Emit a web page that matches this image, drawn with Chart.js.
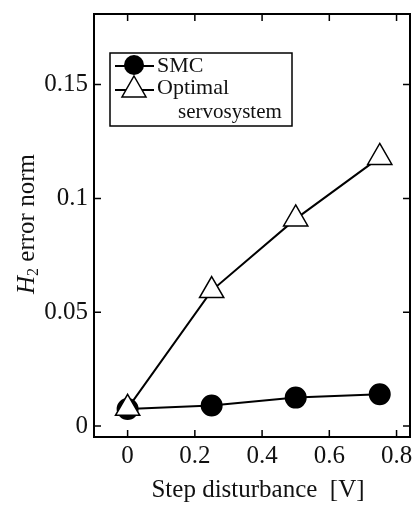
<!DOCTYPE html>
<html>
<head>
<meta charset="utf-8">
<script src="https://cdn.jsdelivr.net/npm/chart.js@4"></script>
<style>
  html, body { margin: 0; padding: 0; background: #fff; }
  #wrap { width: 413px; height: 507px; position: relative; }
</style>
</head>
<body>
<div id="wrap"><canvas id="myChart"></canvas></div>
<script>
// data
const disturbance = [0, 0.25, 0.5, 0.75];
const smcNorm = [0.0075, 0.009, 0.0125, 0.014];
const optimalNorm = [0.0078, 0.0595, 0.091, 0.118];
const xTicks = [0, 0.2, 0.4, 0.6, 0.8];
const yTicks = [0, 0.05, 0.1, 0.15];

const serif = "'Liberation Serif', 'DejaVu Serif', serif";

function toPoints(xs, ys) {
  return xs.map((x, i) => ({ x: x, y: ys[i] }));
}

// inward ticks on all four sides, frame, x labels, axis titles, legend
const framePlugin = {
  id: "frame",
  afterDraw(chart) {
    const c = chart.ctx;
    const a = chart.chartArea;
    const xs = chart.scales.x, ys = chart.scales.y;
    c.save();
    c.strokeStyle = "#000";
    c.lineWidth = 2;
    c.strokeRect(a.left, a.top, a.right - a.left, a.bottom - a.top);
    c.lineWidth = 1.5;
    c.beginPath();
    xTicks.forEach((v) => {
      const px = xs.getPixelForValue(v);
      c.moveTo(px, a.bottom); c.lineTo(px, a.bottom - 7);
      c.moveTo(px, a.top); c.lineTo(px, a.top + 7);
    });
    yTicks.forEach((v) => {
      const py = ys.getPixelForValue(v);
      c.moveTo(a.left, py); c.lineTo(a.left + 7, py);
      c.moveTo(a.right, py); c.lineTo(a.right - 7, py);
    });
    c.stroke();

    // x tick labels
    c.fillStyle = "#111";
    c.font = "25px " + serif;
    c.textAlign = "center";
    c.textBaseline = "middle";
    xTicks.forEach((v) => {
      c.fillText(String(v), xs.getPixelForValue(v), a.bottom + 19);
    });
    // x title
    c.font = "25px " + serif;
    c.fillText("Step disturbance  [V]", 258, 490);
    c.textAlign = "left";

    // y title: italic H with subscript 2
    c.translate(27, 224);
    c.rotate(-Math.PI / 2);
    const f1 = "italic 25px " + serif, f2 = "16px " + serif, f3 = "25px " + serif;
    c.font = f1; const w1 = c.measureText("H").width;
    c.font = f2; const w2 = c.measureText("2").width;
    c.font = f3; const w3 = c.measureText(" error norm").width;
    let x0 = -(w1 + w2 + w3) / 2;
    c.font = f1; c.fillText("H", x0, 0);
    c.font = f2; c.fillText("2", x0 + w1, 7);
    c.font = f3; c.fillText(" error norm", x0 + w1 + w2, 0);
    c.restore();

    // legend box
    c.save();
    c.strokeStyle = "#000";
    c.lineWidth = 1.5;
    c.strokeRect(110, 53, 182, 73);
    c.lineWidth = 2;
    c.beginPath();
    c.moveTo(115, 66); c.lineTo(154, 66);
    c.moveTo(115, 90); c.lineTo(154, 90);
    c.stroke();
    c.fillStyle = "#000";
    c.beginPath(); c.arc(134, 65, 10, 0, Math.PI * 2); c.fill();
    c.fillStyle = "#fff";
    c.lineWidth = 1.5;
    c.beginPath();
    c.moveTo(134, 76); c.lineTo(146, 97); c.lineTo(122, 97); c.closePath();
    c.fill(); c.stroke();
    c.fillStyle = "#111";
    c.font = "22px " + serif;
    c.textBaseline = "middle";
    c.fillText("SMC", 157, 66);
    c.fillText("Optimal", 157, 88);
    c.font = "21px " + serif;
    c.fillText("servosystem", 178, 112);
    c.restore();
  }
};

const ctx = document.getElementById("myChart");

new Chart(ctx, {
  type: "line",
  data: {
    datasets: [{
      label: "Optimal servosystem",
      data: toPoints(disturbance, optimalNorm),
      borderColor: "#000",
      borderWidth: 2,
      pointStyle: "triangle",
      pointRadius: 14,
      pointBackgroundColor: "#fff",
      pointBorderColor: "#000",
      pointBorderWidth: 1.5,
      order: 0,
    }, {
      label: "SMC",
      data: toPoints(disturbance, smcNorm),
      borderColor: "#000",
      borderWidth: 2,
      pointStyle: "circle",
      pointRadius: 10,
      pointBackgroundColor: "#000",
      pointBorderColor: "#000",
      order: 1,
    }]
  },
  options: {
    responsive: true,
    maintainAspectRatio: false,
    animation: false,
    layout: { autoPadding: false, padding: { top: 14, right: 3, left: 0, bottom: 0 } },
    plugins: { legend: { display: false }, tooltip: { enabled: false } },
    scales: {
      x: {
        type: "linear",
        min: -0.1,
        max: 0.84,
        grid: { display: false, drawTicks: false },
        border: { display: false },
        afterBuildTicks: (s) => { s.ticks = xTicks.map((v) => ({ value: v })); },
        afterFit: (s) => { s.height = 70; },
        ticks: { display: false },
      },
      y: {
        min: -0.0048,
        max: 0.181,
        grid: { display: false, drawTicks: false },
        border: { display: false },
        afterBuildTicks: (s) => { s.ticks = yTicks.map((v) => ({ value: v })); },
        afterFit: (s) => { s.width = 94; s.paddingTop = 0; s.paddingBottom = 0; },
        ticks: {
          padding: 6,
          color: "#111",
          font: { family: serif, size: 25 },
          callback: (v) => String(v),
        }
      }
    }
  },
  plugins: [framePlugin]
});
</script>
</body>
</html>
